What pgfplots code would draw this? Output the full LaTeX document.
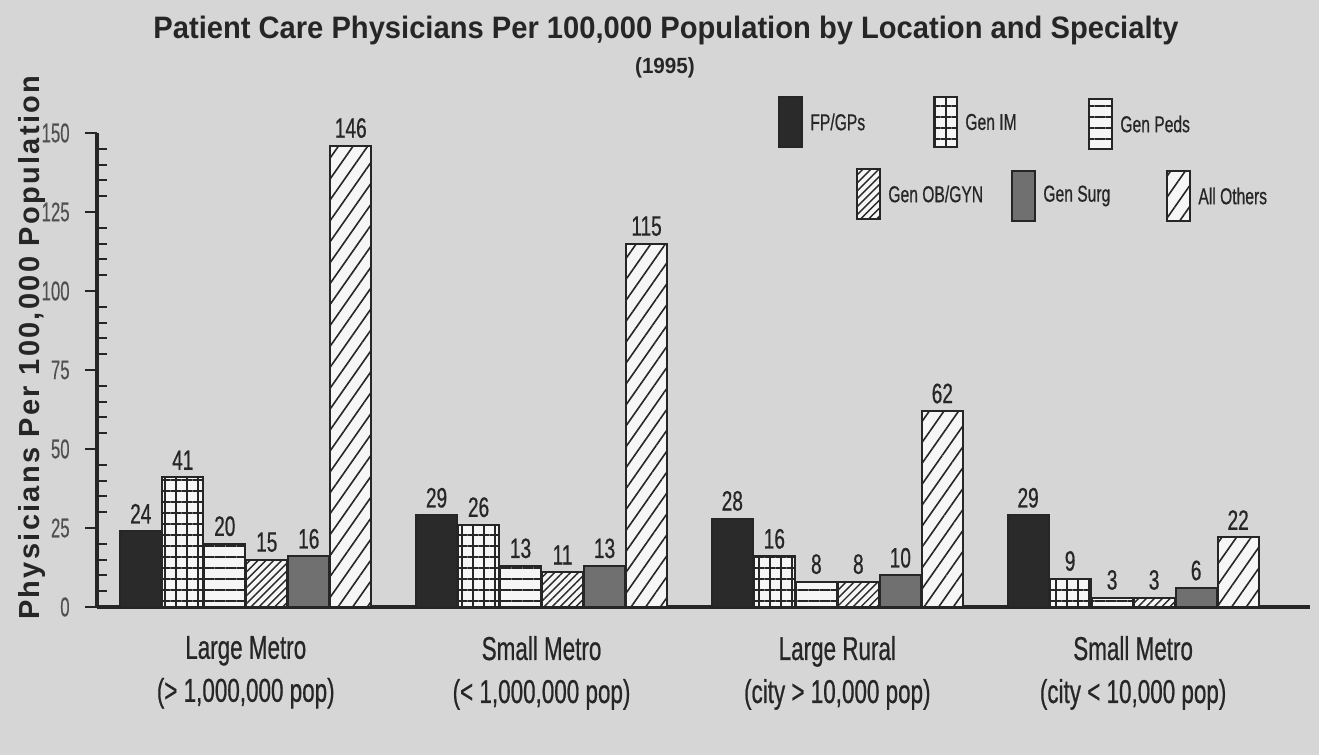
\documentclass[border=0pt]{standalone}
\usepackage{pgfplots}
\pgfplotsset{compat=1.18}
\usepackage{pgfplotstable}
\usepackage{fontspec}
\setmainfont{Liberation Sans}
\newfontfamily\cond[FakeStretch=0.68,FakeBold=0.6]{Liberation Sans}
\newfontfamily\tickfont[FakeStretch=0.62,FakeBold=0.3]{Liberation Sans}
\newfontfamily\titlefont[FakeStretch=0.94]{Liberation Sans}
\newfontfamily\ylabfont[LetterSpace=8]{Liberation Sans}
\usetikzlibrary{patterns.meta}

\definecolor{bg}{RGB}{214,214,214}
\definecolor{ink}{RGB}{38,38,38}
\definecolor{tickc}{RGB}{80,80,80}
\definecolor{fpgp}{RGB}{42,42,42}
\definecolor{surg}{RGB}{112,112,112}
\definecolor{paper}{RGB}{246,246,246}

\tikzset{
  fpsty/.style={fill=fpgp, draw=ink, line width=1pt},
  imsty/.style={fill=paper, draw=ink, line width=1pt,
    postaction={pattern={Hatch[angle=0,distance=5.5pt,line width=0.9pt]}, pattern color=ink}},
  pedsty/.style={fill=paper, draw=ink, line width=1pt,
    postaction={pattern={Lines[angle=0,distance=5.5pt,line width=1.3pt]}, pattern color=ink}},
  obsty/.style={fill=paper, draw=ink, line width=1pt,
    postaction={pattern={Lines[angle=45,distance=2.8pt,line width=0.7pt]}, pattern color=ink}},
  surgsty/.style={fill=surg, draw=ink, line width=1pt},
  othsty/.style={fill=paper, draw=ink, line width=1pt,
    postaction={pattern={Lines[angle=55,distance=6pt,line width=0.8pt]}, pattern color=ink}},
}

% values per 100,000 population, 1995
\pgfplotstableread{
x fp im peds ob surg oth
0 24 41 20 15 16 146
1 29 26 13 11 13 115
2 28 16 8 8 10 62
3 29 9 3 3 6 22
}\datatable

\begin{document}
\begin{tikzpicture}
% background and texts, laid out in pixel units of the reference
\begin{scope}[x=0.5pt,y=-0.5pt,yshift=377.5pt]
  \fill[bg] (0,0) rectangle (1319,755);
  \node[ink, font=\titlefont\bfseries\fontsize{15.5}{18}\selectfont] at (666,30)
    {Patient Care Physicians Per 100,000 Population by Location and Specialty};
  \node[ink, font=\titlefont\bfseries\fontsize{11}{13}\selectfont] at (665,68) {(1995)};
  % legend
  \newcommand\leg[4]{%
    \path[#1] (#2,#3-25) rectangle ++(23,50);
    \node[ink, anchor=west, inner sep=0pt, font=\cond\fontsize{11.5}{13}\selectfont]
      at (#2+31,#3) {#4};}
  \leg{fpsty}{779}{122}{FP/GPs}
  \leg{imsty}{934}{122}{Gen IM}
  \leg{pedsty}{1089}{124}{Gen Peds}
  \leg{obsty}{857}{194}{Gen OB/GYN}
  \leg{surgsty}{1012}{196}{Gen Surg}
  \leg{othsty}{1167}{196}{All Others}
\end{scope}

\begin{axis}[
  at={(48.5pt,74pt)}, anchor=south west,
  scale only axis, width=606.5pt, height=237pt,
  xmin=-0.503, xmax=3.598, ymin=0, ymax=150,
  axis lines=left,
  axis line style={-, line width=2pt, draw=ink},
  ybar=0.5pt, bar width=20.5pt,
  xtick={0,1,2,3},
  xticklabels={{Large Metro\\(> 1,000,000 pop)},{Small Metro\\(< 1,000,000 pop)},
               {Large Rural\\(city > 10,000 pop)},{Small Metro\\(city < 10,000 pop)}},
  xticklabel style={align=center, ink, font=\cond\fontsize{16.5}{21.5}\selectfont, yshift=-5pt},
  major x tick style={draw=none},
  ytick={0,25,...,150}, minor y tick num=4,
  tick align=outside, major tick length=6pt, minor tick length=5pt,
  major y tick style={line width=1.3pt, draw=ink},
  minor y tick style={line width=1pt, draw=ink, xshift=5pt},
  yticklabel style={tickc, font=\tickfont\fontsize{13.5}{14}\selectfont,
    anchor=east, inner sep=0pt, xshift=-7.5pt},
  /pgf/number format/assume math mode=true,
  ylabel={\ylabfont\bfseries Physicians Per 100,000 Population},
  ylabel style={at={(axis description cs:-0.0536,0.547)}, anchor=center,
    ink, font=\fontsize{14.5}{16}\selectfont},
  nodes near coords,
  every node near coord/.append style={ink, font=\cond\fontsize{14}{14}\selectfont},
  clip=false,
]
\addplot[fpsty] table[x=x,y=fp]{\datatable};
\addplot[imsty] table[x=x,y=im]{\datatable};
\addplot[pedsty] table[x=x,y=peds]{\datatable};
\addplot[obsty] table[x=x,y=ob]{\datatable};
\addplot[surgsty] table[x=x,y=surg]{\datatable};
\addplot[othsty] table[x=x,y=oth]{\datatable};
\end{axis}
\end{tikzpicture}
\end{document}
